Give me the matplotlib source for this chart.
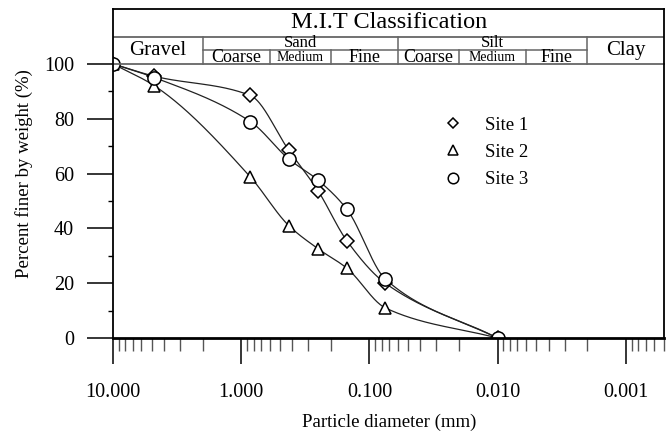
import numpy as np
import matplotlib
matplotlib.use('Agg')
import matplotlib.pyplot as plt
from matplotlib.ticker import LogLocator, NullFormatter

plt.rcParams['font.family'] = ['Liberation Serif', 'DejaVu Serif']
plt.rcParams['mathtext.fontset'] = 'stix'

# sieve sizes (mm) and percent finer for each site
diameter = [10.0, 4.75, 0.85, 0.425, 0.25, 0.15, 0.075, 0.01]
site1 = [100, 95.5, 88.5, 68.5, 53.5, 35.5, 20.0, 0]
site2 = [100, 92.0, 58.8, 41.0, 32.5, 25.5, 11.0, 0]
site3 = [100, 95.0, 79.0, 65.3, 57.5, 47.0, 21.5, 0]

xticks = [10, 1, 0.1, 0.01, 0.001]
xticklabels = ['10.000', '1.000', '0.100', '0.010', '0.001']

# M.I.T classification boundaries (mm)
gravel_b = (10, 2)
sand_b = (2, 0.06)
silt_b = (0.06, 0.002)
clay_b = (0.002, 0.0005)
sand_sub = [(2, 0.6, 'Coarse'), (0.6, 0.2, 'Medium'), (0.2, 0.06, 'Fine')]
silt_sub = [(0.06, 0.02, 'Coarse'), (0.02, 0.006, 'Medium'), (0.006, 0.002, 'Fine')]


def pchip(x, y, xn):
    # monotone cubic (Fritsch-Carlson)
    x = np.asarray(x, float); y = np.asarray(y, float)
    h = np.diff(x); d = np.diff(y) / h
    m = np.zeros_like(y)
    for k in range(1, len(x) - 1):
        if d[k - 1] * d[k] > 0:
            w1 = 2 * h[k] + h[k - 1]; w2 = h[k] + 2 * h[k - 1]
            m[k] = (w1 + w2) / (w1 / d[k - 1] + w2 / d[k])
    m[0] = d[0]; m[-1] = d[-1]
    idx = np.clip(np.searchsorted(x, xn) - 1, 0, len(h) - 1)
    t = (xn - x[idx]) / h[idx]
    h00 = 2*t**3 - 3*t**2 + 1; h10 = t**3 - 2*t**2 + t
    h01 = -2*t**3 + 3*t**2; h11 = t**3 - t**2
    return h00*y[idx] + h10*h[idx]*m[idx] + h01*y[idx+1] + h11*h[idx]*m[idx+1]


def gmid(a, b):
    return np.sqrt(a * b)


fig = plt.figure(figsize=(6.69, 4.34), dpi=100)
ax = fig.add_axes([0.169, 0.221, 0.824, 0.758])

u = -np.log10(diameter)
un = np.linspace(u[0], u[-1], 400)
for vals in (site1, site2, site3):
    ax.plot(10 ** (-un), pchip(u, vals, un), color='#222222', lw=0.9)

ax.plot(diameter, site1, ls='none', marker='D', ms=7, mfc='white', mec='black', mew=1.1, label='Site 1')
ax.plot(diameter, site2, ls='none', marker='^', ms=9, mfc='white', mec='black', mew=1.1, label='Site 2')
ax.plot(diameter, site3, ls='none', marker='o', ms=9.5, mfc='white', mec='black', mew=1.1, label='Site 3')

ax.set_xscale('log')
ax.set_xlim(10, 0.0005)
ax.set_ylim(0, 120)
ax.set_xticks(xticks)
ax.set_xticklabels(xticklabels)
ax.xaxis.set_minor_locator(LogLocator(base=10, subs=np.arange(2, 10), numticks=20))
ax.xaxis.set_minor_formatter(NullFormatter())
ax.set_yticks([0, 20, 40, 60, 80, 100])
ax.set_yticks([10, 30, 50, 70, 90], minor=True)

ax.tick_params(axis='x', which='major', length=19, width=1.1, pad=13, labelsize=14.5)
ax.tick_params(axis='x', which='minor', length=9.5, width=1.0, color='#555555')
ax.tick_params(axis='y', which='major', length=19, width=1.1, pad=9, labelsize=14.5)
ax.tick_params(axis='y', which='minor', length=3.5, width=1.0)
for s in ax.spines.values():
    s.set_linewidth(1.3)
ax.spines['bottom'].set_linewidth(2)

ax.set_xlabel('Particle diameter (mm)', fontsize=13.5, labelpad=9)
ax.set_ylabel('Percent finer by weight (%)', fontsize=13.5, labelpad=8)

# classification header
gc = '#666666'
ax.plot([10, 0.0005], [100, 100], color=gc, lw=1.3, clip_on=False)
ax.plot([10, 0.0005], [110, 110], color=gc, lw=1.3)
ax.plot([sand_b[0], silt_b[1]], [105, 105], color=gc, lw=1.1)
for b in (gravel_b[1], sand_b[1], silt_b[1]):
    ax.plot([b, b], [100, 110], color=gc, lw=1.1)
for a, b, name in sand_sub[1:] + silt_sub[1:]:
    ax.plot([a, a], [100, 105], color=gc, lw=1.1)

ax.text(gmid(10, 0.0005), 115, 'M.I.T Classification', ha='center', va='center', fontsize=17.5)
ax.text(gmid(*gravel_b), 104.8, 'Gravel', ha='center', va='center', fontsize=15)
ax.text(gmid(*clay_b), 104.8, 'Clay', ha='center', va='center', fontsize=15)
ax.text(gmid(*sand_b), 107.7, 'Sand', ha='center', va='center', fontsize=12)
ax.text(gmid(*silt_b), 107.7, 'Silt', ha='center', va='center', fontsize=12)
for a, b, name in sand_sub + silt_sub:
    fs = 10 if name == 'Medium' else 13
    ax.text(gmid(a, b), 102.2, name, ha='center', va='center', fontsize=fs)

ax.legend(loc='upper left', bbox_to_anchor=(0.565, 0.725), frameon=False, fontsize=13.5,
          markerscale=0.8, handletextpad=1.15, labelspacing=0.55, handlelength=1.2)

fig.savefig('out.png', dpi=100)
